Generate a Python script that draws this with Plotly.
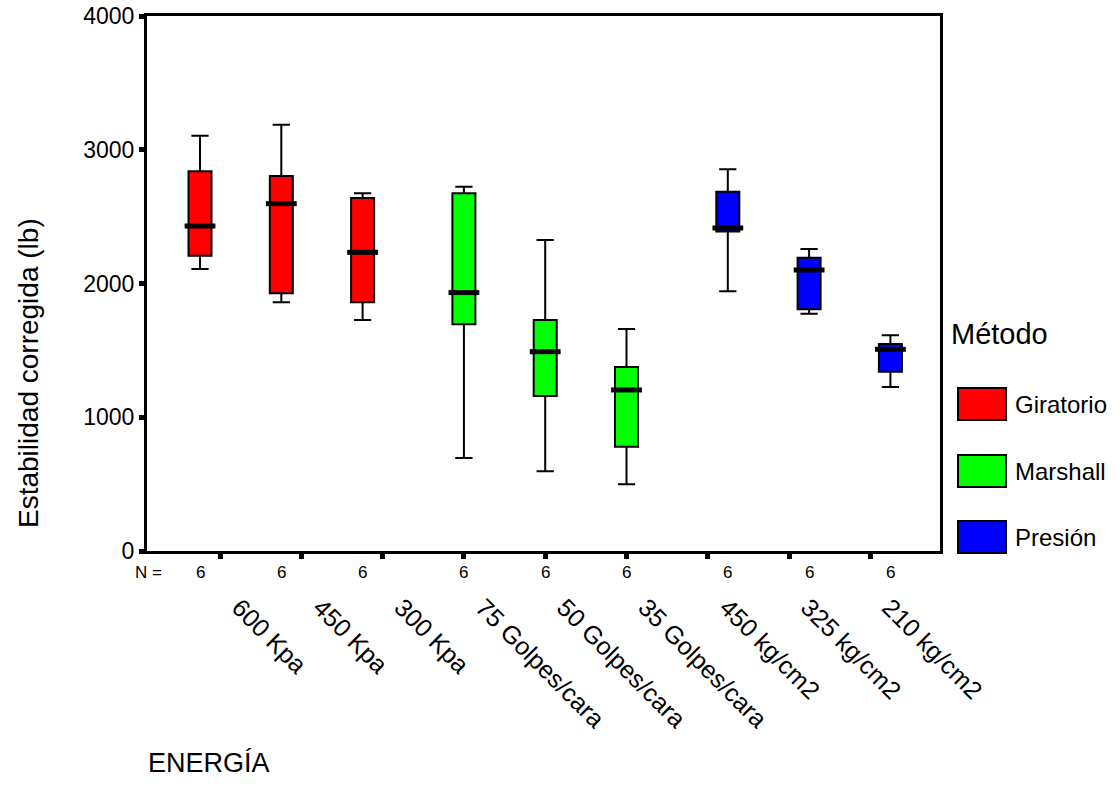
import plotly.graph_objects as go

# ---- data: corrected stability (lb) by compaction energy, grouped by method ----
categories = ["600 Kpa", "450 Kpa", "300 Kpa",
              "75 Golpes/cara", "50 Golpes/cara", "35 Golpes/cara",
              "450 kg/cm2", "325 kg/cm2", "210 kg/cm2"]
metodo = ["Giratorio", "Giratorio", "Giratorio",
          "Marshall", "Marshall", "Marshall",
          "Presión", "Presión", "Presión"]
minimo = [2108, 1859, 1727, 695, 596, 499, 1942, 1774, 1226]
q1 = [2208, 1927, 1859, 1695, 1159, 780, 2388, 1807, 1341]
mediana = [2430, 2597, 2233, 1932, 1490, 1204, 2415, 2101, 1508]
q3 = [2839, 2804, 2639, 2674, 1727, 1376, 2686, 2193, 1548]
maximo = [3105, 3187, 2674, 2724, 2325, 1660, 2854, 2258, 1613]
n_casos = [6, 6, 6, 6, 6, 6, 6, 6, 6]

metodos = ["Giratorio", "Marshall", "Presión"]
colores = {"Giratorio": "rgb(255,0,0)", "Marshall": "rgb(0,255,0)", "Presión": "rgb(0,0,255)"}
desplaz = {"Giratorio": -0.246, "Marshall": 0.0, "Presión": 0.246}

FONT = "Liberation Sans, Arial, sans-serif"
W, H = 1120, 803
L, R, T, B = 147, 180, 16, 252
PW, PH = W - L - R, H - T - B


def fx(px):
    return (px - L) / PW


def fy(py):
    return (H - B - py) / PH


fig = go.Figure()

# position of each box = category index shifted by its cluster slot
pos = [i + desplaz[m] for i, m in enumerate(metodo)]

for m in metodos:
    idx = [i for i, mm in enumerate(metodo) if mm == m]
    fig.add_trace(go.Box(
        x=[pos[i] for i in idx],
        q1=[q1[i] for i in idx],
        median=[mediana[i] for i in idx],
        q3=[q3[i] for i in idx],
        lowerfence=[minimo[i] for i in idx],
        upperfence=[maximo[i] for i in idx],
        width=0.283,
        whiskerwidth=0.75,
        fillcolor=colores[m],
        line=dict(color="black", width=2),
        boxpoints=False,
        name=m,
        showlegend=False,
    ))

# heavy median bars
fig.add_trace(go.Scatter(
    x=pos, y=mediana, mode="markers",
    marker=dict(symbol="line-ew", size=22, line=dict(width=5, color="black")),
    showlegend=False, hoverinfo="skip",
))

annotations = []
# N row
annotations.append(dict(x=fx(148), y=fy(572), xref="paper", yref="paper", text="N =",
                        showarrow=False, font=dict(family=FONT, size=17, color="black"),
                        xanchor="center", yanchor="middle"))
for p, nv in zip(pos, n_casos):
    annotations.append(dict(x=p, y=fy(572), xref="x", yref="paper", text=str(nv),
                            showarrow=False, font=dict(family=FONT, size=17, color="black"),
                            xanchor="center", yanchor="middle"))

# axis titles
annotations.append(dict(x=fx(28), y=fy(373), xref="paper", yref="paper",
                        text="Estabilidad corregida (lb)", textangle=-90, showarrow=False,
                        font=dict(family=FONT, size=28, color="black"),
                        xanchor="center", yanchor="middle"))
annotations.append(dict(x=fx(146), y=fy(763), xref="paper", yref="paper",
                        text="ENERGÍA", showarrow=False,
                        font=dict(family=FONT, size=27, color="black"),
                        xanchor="left", yanchor="middle"))

# legend
annotations.append(dict(x=fx(949), y=fy(334), xref="paper", yref="paper",
                        text="Método", showarrow=False,
                        font=dict(family=FONT, size=29, color="black"),
                        xanchor="left", yanchor="middle"))
shapes = []
leg_y = [404, 471, 537]
for m, yc in zip(metodos, leg_y):
    shapes.append(dict(type="rect", xref="paper", yref="paper",
                       x0=fx(958), x1=fx(1006), y0=fy(yc + 16), y1=fy(yc - 16),
                       fillcolor=colores[m], line=dict(color="black", width=2)))
    annotations.append(dict(x=fx(1013), y=fy(yc), xref="paper", yref="paper",
                            text=m, showarrow=False,
                            font=dict(family=FONT, size=24, color="black"),
                            xanchor="left", yanchor="middle"))

fig.update_layout(
    width=W, height=H,
    margin=dict(l=L, r=R, t=T, b=B, pad=0, autoexpand=False),
    paper_bgcolor="white", plot_bgcolor="white",
    font=dict(family=FONT, color="black"),
    showlegend=False,
    annotations=annotations,
    shapes=shapes,
    xaxis=dict(
        range=[-0.898, 8.856], automargin=False,
        tickmode="array", tickvals=list(range(len(categories))), ticktext=categories,
        tickangle=45, ticks="outside", ticklen=5, tickwidth=5, tickcolor="black",
        ticklabelstandoff=24, ticklabelshift=19,
        tickfont=dict(family=FONT, size=25, color="black"),
        showline=True, linewidth=3, linecolor="black", mirror=True,
        showgrid=False, zeroline=False,
    ),
    yaxis=dict(
        range=[0, 4000], automargin=False,
        tickmode="array", tickvals=[0, 1000, 2000, 3000, 4000],
        ticks="outside", ticklen=5, tickwidth=5, tickcolor="black",
        tickfont=dict(family=FONT, size=23, color="black"),
        showline=True, linewidth=3, linecolor="black", mirror=True,
        showgrid=False, zeroline=False,
    ),
)

fig.write_html("out.html")
